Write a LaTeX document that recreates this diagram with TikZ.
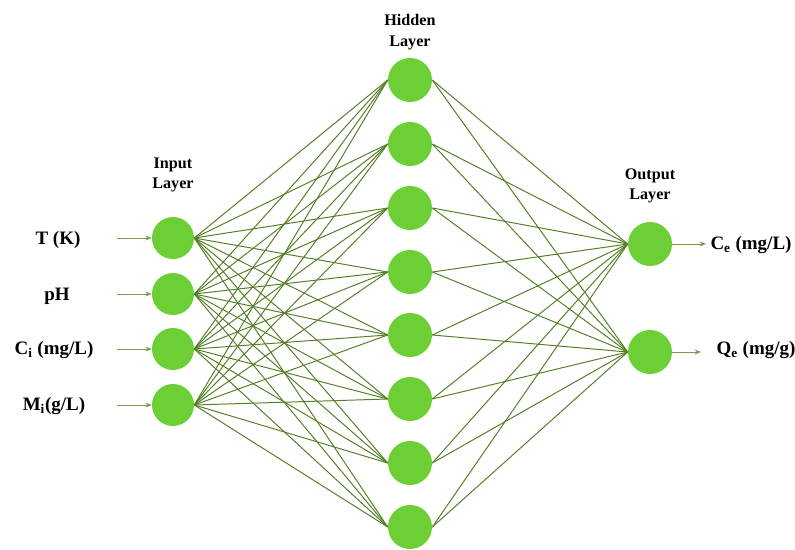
\documentclass[tikz,border=0pt]{standalone}
\usepackage{fontspec}
\setmainfont{Liberation Serif}
\usetikzlibrary{arrows.meta,positioning}
\definecolor{leaf}{HTML}{6CCF36}
\definecolor{olive}{HTML}{557F26}
\definecolor{moss}{HTML}{7A9A52}
\tikzset{
  neuron/.style={circle, fill=leaf, draw=none, minimum size=1.05cm, inner sep=0pt},
  hneuron/.style={neuron, minimum size=1.1cm},
  link/.style={draw=olive, line width=0.7pt},
  inarrow/.style={-{Stealth[length=4.5pt,width=3.5pt]}, draw=moss, line width=0.7pt},
  varlabel/.style={font=\fontsize{13.5}{16}\selectfont\bfseries, inner sep=1pt},
  layerlabel/.style={font=\fontsize{11.5}{14.5}\selectfont\bfseries, align=center}
}

\begin{document}
\begin{tikzpicture}[x=0.025cm, y=-0.025cm]
\useasboundingbox (0,0) rectangle (795,550);
% input layer
\node[neuron] (in1) at (173,238) {};
\node[neuron] (in2) at (173,294) {};
\node[neuron] (in3) at (173,349) {};
\node[neuron] (in4) at (173,405) {};
% hidden layer
\node[hneuron] (hid1) at (410,80) {};
\node[hneuron] (hid2) at (410,144) {};
\node[hneuron] (hid3) at (410,208) {};
\node[hneuron] (hid4) at (410,272) {};
\node[hneuron] (hid5) at (410,335) {};
\node[hneuron] (hid6) at (410,399) {};
\node[hneuron] (hid7) at (410,463) {};
\node[hneuron] (hid8) at (410,527) {};
% output layer
\node[hneuron] (out1) at (650,244) {};
\node[hneuron] (out2) at (650,352) {};
% layer titles
\node[layerlabel] (inhead) at (173,175) {Input\\Layer};
\node[layerlabel] (hidhead) at (410,32) {Hidden\\Layer};
\node[layerlabel] (outhead) at (650,186) {Output\\Layer};
% weights
\foreach \i in {1,...,4}
  \foreach \j in {1,...,8}
    \draw[link] (in\i.east) -- (hid\j.west);
\foreach \j in {1,...,8}
  \foreach \k in {1,2}
    \draw[link] (hid\j.east) -- (out\k.west);
% inputs
\node[varlabel] (temp) at (58,240) {T (K)};
\node[varlabel] (ph) at (57,296) {pH};
\node[varlabel] (conc) at (54,350) {C\textsubscript{i} (mg/L)};
\node[varlabel] (mass) at (54,406) {M\textsubscript{i}(g/L)};
\coordinate (a1) at (117,238);
\coordinate (a2) at (117,294);
\coordinate (a3) at (117,349);
\coordinate (a4) at (117,405);
\draw[inarrow] (a1) -- (in1);
\draw[inarrow] (a2) -- (in2);
\draw[inarrow] (a3) -- (in3);
\draw[inarrow] (a4) -- (in4);
% outputs
\coordinate (b1) at (706,244);
\coordinate (b2) at (701,352);
\draw[inarrow] (out1) -- (b1);
\draw[inarrow] (out2) -- (b2);
\node[varlabel] (ce) at (751,245) {C\textsubscript{e} (mg/L)};
\node[varlabel] (qe) at (756,350) {Q\textsubscript{e} (mg/g)};
\end{tikzpicture}
\end{document}
